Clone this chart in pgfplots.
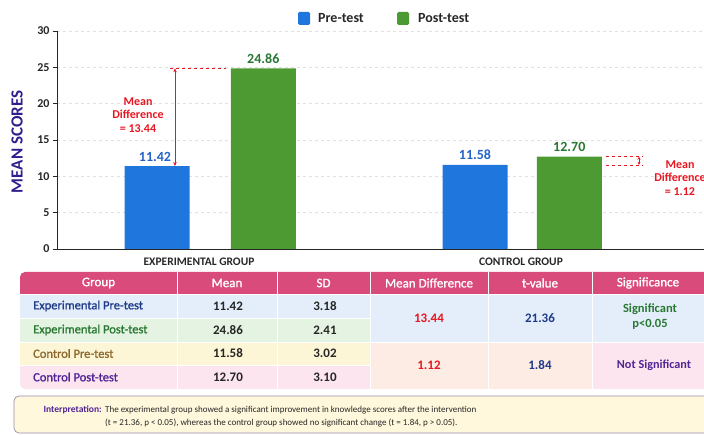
\documentclass[border=0pt]{standalone}
\usepackage{fontspec}
\setmainfont{Carlito}
\newfontfamily\semib{Carlito}[FakeBold=1.2]
\usepackage{pgfplots}
\pgfplotsset{compat=1.18}
\usetikzlibrary{arrows.meta}
\definecolor{blueBar}{RGB}{31,119,222}
\definecolor{greenBar}{RGB}{78,154,50}
\definecolor{blueLab}{RGB}{37,99,200}
\definecolor{greenLab}{RGB}{40,120,50}
\definecolor{redAnn}{RGB}{232,22,32}
\definecolor{indigo}{RGB}{46,31,140}
\definecolor{hdr}{RGB}{216,75,123}
\definecolor{navy}{RGB}{31,58,138}
\definecolor{purp}{RGB}{80,35,150}
\definecolor{brownT}{RGB}{140,105,45}
\definecolor{rowA}{RGB}{227,238,250}
\definecolor{rowB}{RGB}{229,243,226}
\definecolor{rowC}{RGB}{253,246,214}
\definecolor{rowD}{RGB}{252,229,238}
\definecolor{peach}{RGB}{253,236,228}
\definecolor{boxFill}{RGB}{255,248,220}
\definecolor{boxLine}{RGB}{150,140,170}
\begin{document}
\begin{tikzpicture}[x=1pt,y=1pt]
\useasboundingbox (0,0) rectangle (704,434);
% legend
\fill[blueBar, rounded corners=1.5pt] (298,409) rectangle (310,422);
\node[anchor=west, inner sep=0pt, font=\bfseries\fontsize{14}{16}\selectfont, text=black!85] at (318,415.5) {Pre-test};
\fill[greenBar, rounded corners=1.5pt] (397,409) rectangle (409,422);
\node[anchor=west, inner sep=0pt, font=\bfseries\fontsize{14}{16}\selectfont, text=black!85] at (418,415.5) {Post-test};
% y label
\node[rotate=90, font=\bfseries\fontsize{17}{19}\selectfont, text=indigo] at (17,292) {MEAN SCORES};
\begin{axis}[
  at={(57pt,185pt)}, anchor=south west, scale only axis,
  width=647pt, height=218pt,
  xmin=57, xmax=704, ymin=0, ymax=30,
  axis x line*=bottom, axis y line*=left,
  axis line style={black!85, line width=0.8pt},
  ytick={0,5,...,30},
  xtick={199,521}, xticklabels={EXPERIMENTAL GROUP, CONTROL GROUP},
  x tick style={draw=none},
  y tick style={black!85, line width=0.6pt},
  tick align=outside, major tick length=4pt,
  ymajorgrids, major grid style={dashed, black!12},
  /pgf/number format/assume math mode=true,
  yticklabel style={font=\bfseries\fontsize{12}{13}\selectfont, text=black!85},
  xticklabel style={font=\bfseries\fontsize{11.5}{13}\selectfont, text=black!85, yshift=-1pt},
  clip=false,
]
\addplot[ybar, bar width=65, bar shift=0pt, fill=blueBar, draw=none] coordinates {(157,11.42) (475,11.58)};
\addplot[ybar, bar width=65, bar shift=0pt, fill=greenBar, draw=none] coordinates {(263.3,24.86) (569.3,12.70)};
% value labels
\node[anchor=base, inner sep=0pt, yshift=5pt, font=\bfseries\fontsize{14}{15}\selectfont, text=blueLab] at (axis cs:155,11.42) {11.42};
\node[anchor=base, inner sep=0pt, yshift=5pt, font=\bfseries\fontsize{14}{15}\selectfont, text=greenLab] at (axis cs:263.3,24.86) {24.86};
\node[anchor=base, inner sep=0pt, yshift=5pt, font=\bfseries\fontsize{14}{15}\selectfont, text=blueLab] at (axis cs:475,11.58) {11.58};
\node[anchor=base, inner sep=0pt, yshift=5pt, font=\bfseries\fontsize{14}{15}\selectfont, text=greenLab] at (axis cs:569.3,12.70) {12.70};
% experimental mean difference
\draw[redAnn, dashed, line width=0.6pt] (axis cs:170,24.86) -- (axis cs:226,24.86);
\draw[redAnn, line width=0.6pt, {Stealth[length=4pt,width=3.5pt]}-{Stealth[length=4pt,width=3.5pt]}] (axis cs:175,11.42) -- (axis cs:175,24.86);
\node[align=center, inner sep=0pt, text=redAnn, font=\bfseries\fontsize{12}{13.5}\selectfont] at (axis cs:138,18.44) {Mean\\Difference\\= 13.44};
% control mean difference
\draw[redAnn, dashed, line width=0.6pt] (axis cs:606,12.70) -- (axis cs:643,12.70);
\draw[redAnn, dashed, line width=0.6pt] (axis cs:606,11.58) -- (axis cs:643,11.58);
\draw[redAnn, line width=0.6pt, {Stealth[length=3pt,width=3pt]}-{Stealth[length=3pt,width=3pt]}] (axis cs:639,11.58) -- (axis cs:639,12.70);
\node[align=center, inner sep=0pt, text=redAnn, font=\bfseries\fontsize{12}{13.5}\selectfont] at (axis cs:680,9.77) {Mean\\Difference\\= 1.12};
\end{axis}
% ---------- table ----------
\fill[hdr, rounded corners=5pt] (20,140) rectangle (720,162);
\fill[hdr] (20,140) rectangle (720,150);
\fill[rowA] (20,116) rectangle (370,140);
\fill[rowB] (20,92) rectangle (370,116);
\fill[rowC] (20,69) rectangle (370,92);
\fill[rowD, rounded corners=5pt] (20,45) rectangle (370,69);
\fill[rowD] (20,60) rectangle (370,69);
\fill[rowD] (30,45) rectangle (370,69);
\fill[rowA] (370,92) rectangle (720,140);
\fill[peach] (370,45) rectangle (592,92);
\fill[rowD] (592,45) rectangle (720,92);
\foreach \x in {177,277,370,488,592} \draw[white, line width=0.8pt] (\x,45) -- (\x,162);
\draw[white, line width=0.8pt] (20,140) -- (720,140);
\draw[white, line width=0.8pt] (20,116) -- (370,116);
\draw[white, line width=0.8pt] (20,92) -- (720,92);
\draw[white, line width=0.8pt] (20,69) -- (370,69);
\tikzset{hd/.style={text=white, inner sep=0pt, font=\semib\fontsize{13}{14}\selectfont}}
\node[hd] at (98.5,151) {Group};
\node[hd] at (227,151) {Mean};
\node[hd] at (323.5,151) {SD};
\node[hd] at (429,151) {Mean Difference};
\node[hd] at (540,151) {t-value};
\node[hd] at (648,151) {Significance};
\tikzset{gn/.style={anchor=west, inner sep=0pt, font=\semib\fontsize{12.5}{14}\selectfont}}
\node[gn, text=navy] at (33,128) {Experimental Pre-test};
\node[gn, text=greenLab] at (33,104) {Experimental Post-test};
\node[gn, text=brownT] at (33,80.5) {Control Pre-test};
\node[gn, text=purp] at (33,57) {Control Post-test};
\tikzset{vl/.style={inner sep=0pt, font=\bfseries\fontsize{13}{14}\selectfont, text=black!85}}
\node[vl] at (228,128) {11.42}; \node[vl] at (325,128) {3.18};
\node[vl] at (228,104) {24.86}; \node[vl] at (325,104) {2.41};
\node[vl] at (228,80.5) {11.58}; \node[vl] at (325,80.5) {3.02};
\node[vl] at (228,57) {12.70}; \node[vl] at (325,57) {3.10};
\tikzset{mv/.style={inner sep=0pt, font=\bfseries\fontsize{13}{15}\selectfont}}
\node[mv, text=redAnn] at (429,116) {13.44};
\node[mv, text=navy] at (540,116) {21.36};
\node[mv, text=greenLab, align=center, font=\bfseries\fontsize{12.5}{15}\selectfont] at (650,117) {Significant\\p<0.05};
\node[mv, text=redAnn] at (429,68.5) {1.12};
\node[mv, text=navy] at (540,68.5) {1.84};
\node[mv, text=purp, font=\bfseries\fontsize{12.2}{15}\selectfont] at (654,68.5) {Not Significant};
% ---------- interpretation box ----------
\draw[boxLine, fill=boxFill, rounded corners=5pt, line width=0.7pt] (14,1) rectangle (720,38);
\node[anchor=base east, inner sep=0pt, font=\bfseries\fontsize{9.5}{11}\selectfont, text=purp] at (102,22) {Interpretation:};
\node[anchor=base west, inner sep=0pt, font=\fontsize{9}{11}\selectfont, text=black!85] at (105,22) {The experimental group showed a significant improvement in knowledge scores after the intervention};
\node[anchor=base west, inner sep=0pt, font=\fontsize{9}{11}\selectfont, text=black!85] at (105,9) {(t = 21.36, p < 0.05), whereas the control group showed no significant change (t = 1.84, p > 0.05).};
\end{tikzpicture}
\end{document}
